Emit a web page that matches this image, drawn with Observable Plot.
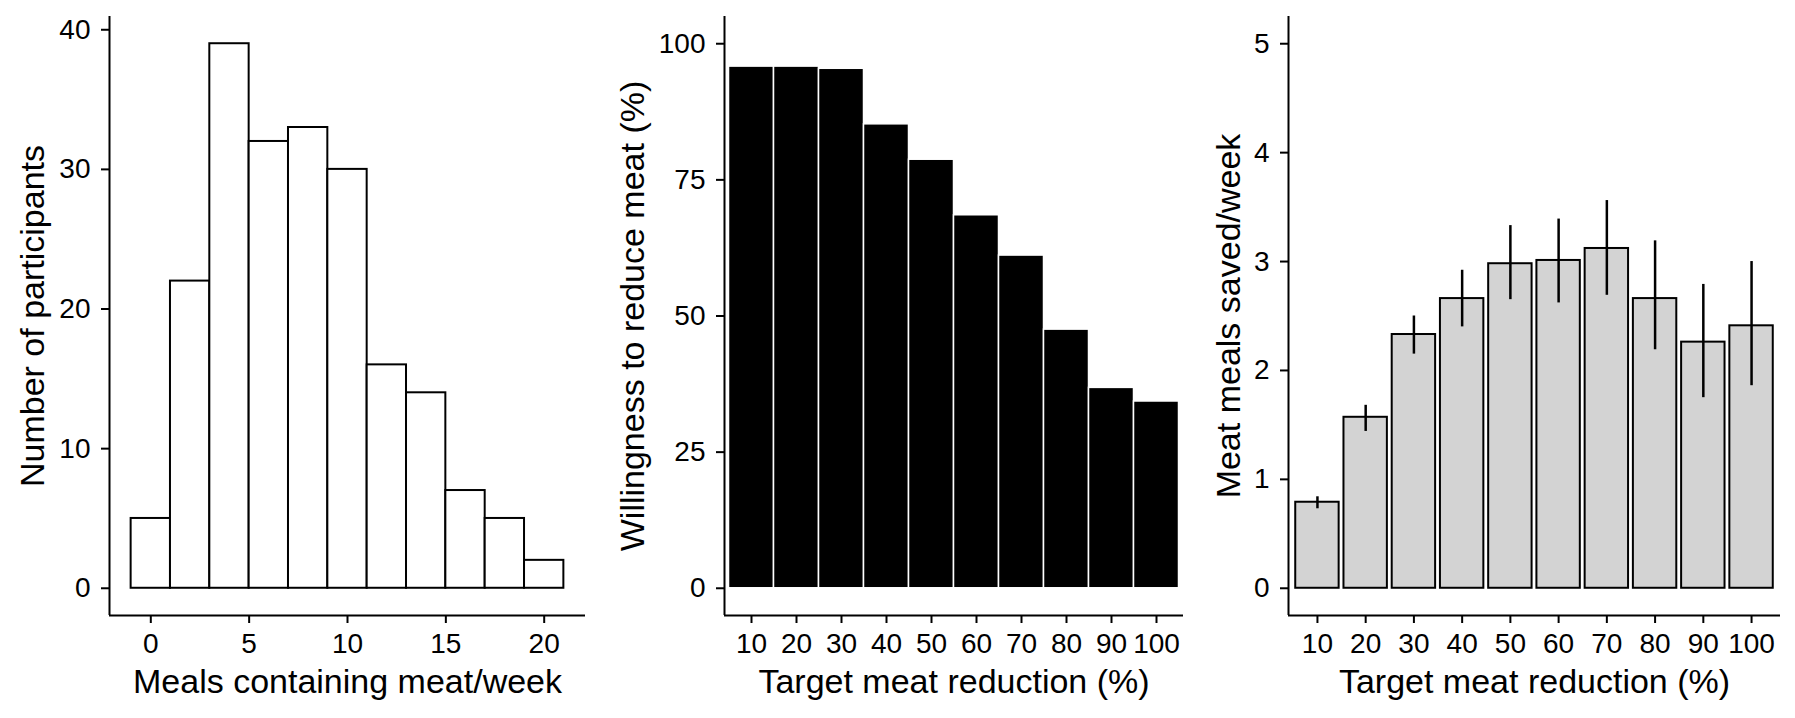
<!DOCTYPE html>
<html><head><meta charset="utf-8">
<script src="https://cdn.jsdelivr.net/npm/d3@7"></script>
<script src="https://cdn.jsdelivr.net/npm/@observablehq/plot@0.6"></script>
<style>
body{margin:0;background:#fff;}
#wrap{position:relative;width:1795px;height:718px;background:#fff;}
#wrap > svg{position:absolute;top:0;}
#wrap g[aria-label$="tick label"]{font-size:28px;}
</style></head><body><div id="wrap"></div>
<script>
// ---- data ----
const binCenters = [0, 2, 4, 6, 8, 10, 12, 14, 16, 18, 20];
const binCounts  = [5, 22, 39, 32, 33, 30, 16, 14, 7, 5, 2];
const binWidth = 2;
const histTicks = [0, 5, 10, 15, 20];
const countTicks = [0, 10, 20, 30, 40];

const targets = ["10", "20", "30", "40", "50", "60", "70", "80", "90", "100"];
const willingness = [95.8, 95.8, 95.4, 85.2, 78.7, 68.5, 61.1, 47.5, 36.8, 34.3];
const willTicks = [0, 25, 50, 75, 100];

const mealsSaved = [0.79, 1.57, 2.33, 2.66, 2.98, 3.01, 3.12, 2.66, 2.26, 2.41];
const savedLow   = [0.73, 1.44, 2.15, 2.40, 2.65, 2.62, 2.69, 2.19, 1.75, 1.86];
const savedHigh  = [0.84, 1.68, 2.50, 2.92, 3.33, 3.39, 3.56, 3.19, 2.79, 3.00];
const savedTicks = [0, 1, 2, 3, 4, 5];

const titles = {
  h: ["Meals containing meat/week", "Number of participants"],
  w: ["Target meat reduction (%)", "Willingness to reduce meat (%)"],
  s: ["Target meat reduction (%)", "Meat meals saved/week"]
};

// ---- tables ----
const hist = binCenters.map((c, i) => ({c, n: binCounts[i]}));
const will = targets.map((t, i) => ({pos: i + 1, t, v: willingness[i]}));
const saved = targets.map((t, i) => ({pos: i + 1, t, v: mealsSaved[i], lo: savedLow[i], hi: savedHigh[i]}));
const positions = targets.map((t, i) => i + 1);

// ggplot-like expansion
const expandC = (lo, hi) => { const e = (hi - lo) * 0.05; return [lo - e, hi + e]; };
const discreteDomain = n => [1 - 0.6, n + 0.6];

const FONT = "'Liberation Sans', Arial, sans-serif";
const style = {fontFamily: FONT, fontSize: "28px", color: "#000", background: "transparent", overflow: "visible"};
const W = 598, H = 718;

function axes(xTicks, xFmt, yTicks) {
  return [
    Plot.axisX({ticks: xTicks, tickFormat: xFmt, label: null, tickSize: 8, tickPadding: 10, strokeWidth: 2, fontSize: 28, fill: "#000"}),
    Plot.axisY({ticks: yTicks, tickFormat: d => String(d), label: null, tickSize: 8, tickPadding: 11, strokeWidth: 2, fontSize: 28, fill: "#000"})
  ];
}
function titleMarks(t, dxY) {
  return [
    Plot.text([t[0]], {text: d => d, frameAnchor: "bottom", dy: 77, fontSize: 34, fill: "#000"}),
    Plot.text([t[1]], {text: d => d, frameAnchor: "left", textAnchor: "middle", dx: dxY, rotate: -90, fontSize: 34, fill: "#000"})
  ];
}

// Panel 1: histogram
const xd1 = expandC(-1, 21), yd1 = expandC(0, 39);
const p1 = Plot.plot({
  width: W, height: H, marginLeft: 109, marginRight: 13, marginTop: 16, marginBottom: 103,
  style,
  x: {domain: xd1}, y: {domain: yd1},
  marks: [
    Plot.rectY(hist, {x1: d => d.c - binWidth / 2, x2: d => d.c + binWidth / 2, y: "n", fill: "white", stroke: "black", strokeWidth: 2}),
    Plot.ruleX([xd1[0]], {stroke: "black", strokeWidth: 2}),
    Plot.ruleY([yd1[0]], {stroke: "black", strokeWidth: 2}),
    ...axes(histTicks, d => String(d), countTicks),
    ...titleMarks(titles.h, -76)
  ]
});

// Panel 2: willingness
const xd2 = discreteDomain(targets.length), yd2 = expandC(0, 100);
const p2 = Plot.plot({
  width: W, height: H, marginLeft: 126, marginRight: 13, marginTop: 16, marginBottom: 103,
  style,
  x: {domain: xd2}, y: {domain: yd2},
  marks: [
    Plot.rectY(will, {x1: d => d.pos - 0.5, x2: d => d.pos + 0.5, y: "v", fill: "black", stroke: "white", strokeWidth: 1.5}),
    Plot.ruleX([xd2[0]], {stroke: "black", strokeWidth: 2}),
    Plot.ruleY([yd2[0]], {stroke: "black", strokeWidth: 2}),
    ...axes(positions, i => targets[i - 1], willTicks),
    ...titleMarks(titles.w, -91)
  ]
});

// Panel 3: meals saved
const xd3 = discreteDomain(targets.length), yd3 = expandC(0, 5);
const p3 = Plot.plot({
  width: 599, height: H, marginLeft: 92, marginRight: 15, marginTop: 16, marginBottom: 103,
  style,
  x: {domain: xd3}, y: {domain: yd3},
  marks: [
    Plot.rectY(saved, {x1: d => d.pos - 0.45, x2: d => d.pos + 0.45, y: "v", fill: "#d3d3d3", stroke: "black", strokeWidth: 2}),
    Plot.ruleX(saved, {x: "pos", y1: "lo", y2: "hi", stroke: "black", strokeWidth: 2.5}),
    Plot.ruleX([xd3[0]], {stroke: "black", strokeWidth: 2}),
    Plot.ruleY([yd3[0]], {stroke: "black", strokeWidth: 2}),
    ...axes(positions, i => targets[i - 1], savedTicks),
    ...titleMarks(titles.s, -59)
  ]
});

const wrap = document.getElementById("wrap");
[[p1, 0], [p2, 598], [p3, 1196]].forEach(([p, left]) => { p.style.left = left + "px"; wrap.appendChild(p); });
</script></body></html>
